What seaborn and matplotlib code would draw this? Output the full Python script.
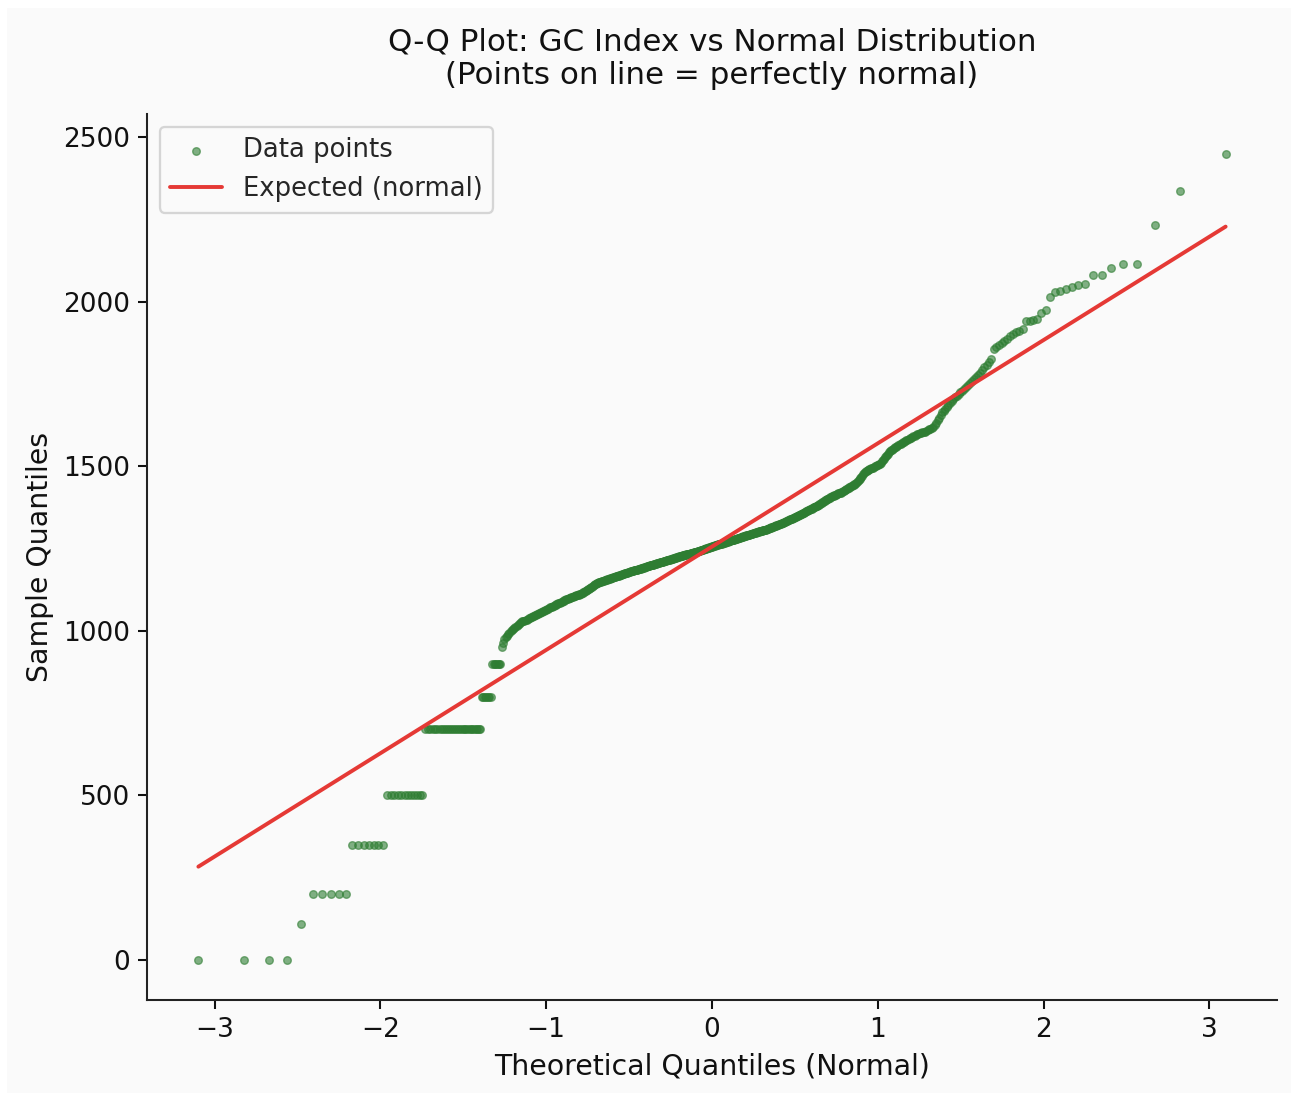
import numpy as np
import pandas as pd
import matplotlib
matplotlib.use("Agg")
import matplotlib.pyplot as plt
from matplotlib.patches import Rectangle
import seaborn as sns
from statistics import NormalDist

# ---------------- data (sorted GC index sample) ----------------
# low-end repeated values and how often each occurs
plateau_values = [0, 110, 200, 350, 500, 700, 800, 900]
plateau_counts = [4, 1, 5, 7, 12, 29, 7, 7]

# continuous middle part of the sorted sample
middle_values = [
    950, 962, 975,
    981, 985, 990, 994, 998,
    1001, 1004, 1007, 1010, 1013, 1016, 1019, 1022, 1025, 1028,
    1030, 1031, 1033, 1034, 1036, 1038, 1039, 1041, 1042, 1044, 1046, 1047, 1049,
    1050, 1052, 1053, 1055, 1056, 1058, 1059, 1061, 1062, 1064, 1065, 1067, 1069,
    1071, 1072, 1073, 1075, 1076, 1077, 1079, 1080, 1081, 1083, 1084, 1085, 1087, 1088, 1089, 1091, 1092, 1093, 1095,
    1096, 1097, 1098, 1099, 1100, 1101, 1102, 1103, 1104, 1105, 1106, 1107, 1108, 1109, 1110, 1111, 1112, 1113, 1114, 1115,
    1117, 1118, 1120, 1122, 1123, 1125, 1126, 1128, 1130, 1131, 1133, 1134, 1136, 1138, 1139, 1141, 1142, 1144, 1145,
    1146, 1147, 1147, 1148, 1149, 1150, 1150, 1151, 1152, 1153, 1154, 1154, 1155, 1156, 1157, 1157, 1158, 1159, 1160, 1160, 1161,
    1162, 1162, 1163, 1164, 1165, 1165, 1166, 1167, 1167, 1168, 1169, 1169, 1170, 1171, 1172, 1172, 1173, 1174, 1174, 1175, 1176, 1176, 1177, 1178,
    1178, 1179, 1180, 1180, 1181, 1182, 1182, 1183, 1183, 1184, 1185, 1185, 1186, 1187, 1187, 1188, 1189, 1189, 1190, 1191, 1191, 1192, 1192, 1193, 1194, 1194, 1195, 1196,
    1196, 1197, 1197, 1198, 1199, 1199, 1200, 1200, 1201, 1201, 1202, 1203, 1203, 1204, 1204, 1205, 1205, 1206, 1206, 1207, 1208, 1208, 1209, 1209, 1210, 1210, 1211,
    1211, 1212, 1213, 1213, 1214, 1214, 1215, 1215, 1216, 1216, 1217, 1218, 1218, 1219, 1219, 1220, 1220, 1221, 1222, 1222, 1223, 1223, 1224, 1224, 1225, 1226, 1226, 1227,
    1227, 1228, 1228, 1229, 1229, 1230, 1230, 1231, 1231, 1232, 1232, 1232, 1233, 1233, 1234, 1234, 1235, 1235, 1236, 1236, 1237, 1237, 1238, 1238, 1239, 1239, 1240, 1240,
    1241, 1241, 1242, 1243, 1243, 1244, 1244, 1245, 1246, 1246, 1247, 1247, 1248, 1249, 1249, 1250, 1250, 1251, 1252, 1252, 1253, 1253, 1254, 1255, 1255, 1256, 1256, 1257,
    1258, 1258, 1259, 1259, 1260, 1261, 1261, 1262, 1262, 1263, 1264, 1264, 1265, 1265, 1266, 1267, 1267, 1268, 1268, 1269, 1270, 1270, 1271, 1271, 1272, 1273, 1273, 1274, 1274, 1275, 1275, 1276, 1276, 1277,
    1277, 1278, 1279, 1279, 1280, 1280, 1281, 1282, 1282, 1283, 1283, 1284, 1285, 1285, 1286, 1286, 1287, 1287, 1288, 1289, 1289, 1290, 1290, 1291, 1291, 1292, 1292, 1293,
    1294, 1294, 1295, 1295, 1296, 1296, 1297, 1298, 1298, 1299, 1299, 1300, 1300, 1301, 1302, 1302, 1303, 1303, 1304, 1304, 1305, 1305, 1306, 1306, 1307, 1307, 1308,
    1309, 1309, 1310, 1311, 1312, 1312, 1313, 1314, 1315, 1315, 1316, 1317, 1318, 1318, 1319, 1320, 1321, 1321, 1322, 1323, 1324, 1324, 1325, 1326, 1327, 1327, 1328,
    1329, 1330, 1331, 1332, 1333, 1334, 1335, 1336, 1337, 1338, 1339, 1340, 1341, 1342, 1343, 1344, 1345, 1346, 1347, 1348, 1349, 1350, 1351, 1352, 1353,
    1354, 1355, 1356, 1357, 1358, 1359, 1360, 1361, 1363, 1364, 1365, 1366, 1367, 1368, 1369, 1370, 1371, 1372, 1373, 1375, 1376, 1377, 1378, 1379,
    1380, 1382, 1383, 1385, 1386, 1387, 1389, 1390, 1392, 1393, 1394, 1396, 1397, 1399, 1400, 1401, 1403, 1404,
    1405, 1406, 1408, 1409, 1410, 1411, 1412, 1413, 1415, 1416, 1417, 1418, 1419, 1420, 1422, 1423, 1424,
    1425, 1427, 1428, 1430, 1431, 1433, 1434, 1436, 1437, 1439, 1440, 1442, 1443, 1445, 1446, 1448,
    1451, 1455, 1458, 1461, 1465, 1468, 1471, 1475, 1478, 1481, 1484,
    1486, 1487, 1489, 1490, 1492, 1493, 1495, 1496, 1498, 1500, 1501, 1503, 1504, 1506, 1507,
    1511, 1515, 1519, 1523, 1527, 1531, 1534, 1538, 1542,
    1546, 1548, 1550, 1552, 1555, 1557, 1559, 1561, 1563, 1566, 1568, 1570, 1572, 1574, 1577, 1579,
    1581, 1583, 1585, 1587, 1589, 1591, 1593, 1595, 1597, 1599,
    1600, 1601, 1603, 1604, 1605, 1607,
    1609, 1612, 1614, 1616, 1619,
    1624, 1630,
    1639, 1647, 1656, 1664,
    1668, 1674, 1680, 1686, 1692, 1697,
    1703, 1709, 1714, 1720, 1726,
    1730, 1736, 1742, 1748, 1753,
    1760, 1766, 1772, 1778, 1784,
    1792, 1801, 1808,
    1818, 1827,
    1855,
    1862, 1867,
    1875, 1881,
    1888, 1895,
    1901, 1908,
    1912, 1918,
    1940,
    1942, 1945,
    1948,
    1967,
    1974,
]

# upper tail (individually visible points)
upper_values = [2014, 2030, 2033, 2038, 2044, 2052, 2054, 2080, 2082,
                2103, 2116, 2116, 2233, 2335, 2448]

title_text = "Q-Q Plot: GC Index vs Normal Distribution\n(Points on line = perfectly normal)"
xlabel_text = "Theoretical Quantiles (Normal)"
ylabel_text = "Sample Quantiles"
label_points = "Data points"
label_line = "Expected (normal)"

# ---------------- build Q-Q table ----------------
sample = np.sort(np.concatenate([
    np.repeat(plateau_values, plateau_counts),
    np.array(middle_values, dtype=float),
    np.array(upper_values, dtype=float),
]))
n = len(sample)
# Filliben order-statistic medians (as used by scipy.stats.probplot)
m = np.empty(n)
m[-1] = 0.5 ** (1.0 / n)
m[0] = 1 - m[-1]
i = np.arange(2, n)
m[1:-1] = (i - 0.3175) / (n + 0.365)
nd = NormalDist()
theo = np.array([nd.inv_cdf(p) for p in m])

slope, intercept = np.polyfit(theo, sample, 1)
df = pd.DataFrame({"theoretical": theo, "sample": sample})
df["fit"] = intercept + slope * df["theoretical"]

# ---------------- plot ----------------
sns.set_theme(style="ticks", context="notebook", rc={
    "axes.linewidth": 0.9,
    "xtick.major.size": 4.0, "ytick.major.size": 4.0,
    "xtick.major.width": 0.9, "ytick.major.width": 0.9,
})
plt.rcParams["font.family"] = ["DejaVu Sans"]
BG = "#fafafa"
DPI = 165
fig = plt.figure(figsize=(1291 / DPI, 1095 / DPI), dpi=DPI, facecolor="white")
fig.patches.append(Rectangle((7 / 1291, 2 / 1095), 1 - 7 / 1291, 1 - 10 / 1095,
                             transform=fig.transFigure, facecolor=BG,
                             edgecolor="none", zorder=-10))
ax = fig.add_axes([147 / 1291, 95 / 1095, 1130 / 1291, 886 / 1095])
ax.set_facecolor(BG)

green = "#2e7d32"
sns.scatterplot(data=df, x="theoretical", y="sample", ax=ax, color=green,
                edgecolor=green, linewidth=0.6, alpha=0.6, s=11,
                label=label_points, zorder=2)
sns.lineplot(data=df, x="theoretical", y="fit", ax=ax, color="#e53935",
             linewidth=1.7, estimator=None, sort=True, label=label_line, zorder=3)

ax.set_title(title_text, fontsize=13.5, color="#111111", pad=13)
ax.set_xlabel(xlabel_text, fontsize=12.4, color="#111111")
ax.set_ylabel(ylabel_text, fontsize=12.4, color="#111111")
ax.set_xticks([-3, -2, -1, 0, 1, 2, 3])
ax.set_yticks([0, 500, 1000, 1500, 2000, 2500])
ax.tick_params(labelsize=11.5, colors="#111111")
sns.despine(ax=ax)
for s in ["left", "bottom"]:
    ax.spines[s].set_color("#222222")
leg = ax.legend(loc="upper left", fontsize=11.3, frameon=True)
leg.get_frame().set_edgecolor("#cccccc")
leg.get_frame().set_facecolor(BG)

fig.savefig("out.png", dpi=DPI, facecolor=fig.get_facecolor())
